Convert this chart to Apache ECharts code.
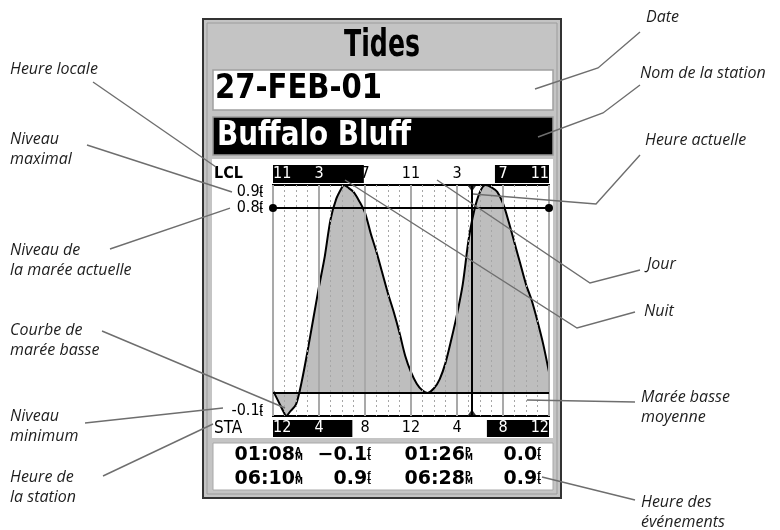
<!DOCTYPE html>
<html>
<head>
<meta charset="utf-8">
<script src="https://cdn.jsdelivr.net/npm/echarts@6/dist/echarts.min.js"></script>
<style>
html, body { margin: 0; padding: 0; background: #fff; }
#chart { width: 780px; height: 530px; }
</style>
</head>
<body>
<div id="chart"></div>
<script>
// Tide level (ft) at half-hour steps, station time (0 = midnight, 24 = next midnight)
const sampleHours  = [0, 0.5, 1, 1.5, 2, 2.5, 3, 3.5, 4, 4.5, 5, 5.5, 6, 6.5, 7, 7.5, 8, 8.5, 9, 9.5,
                      10, 10.5, 11, 11.5, 12, 12.5, 13, 14, 14.5, 15, 15.5, 16, 16.5, 17, 17.5, 18,
                      19, 19.5, 20, 20.5, 21, 21.5, 22, 22.5, 23, 23.5, 24];
const sampleLevels = [0.01, -0.04, -0.09, -0.08, -0.05, 0.05, 0.18, 0.32, 0.46, 0.59, 0.75, 0.84, 0.89, 0.89, 0.87, 0.83, 0.78, 0.69, 0.61, 0.52,
                      0.43, 0.35, 0.26, 0.16, 0.09, 0.04, 0.01, 0.02, 0.06, 0.13, 0.23, 0.34, 0.47, 0.66, 0.79, 0.87,
                      0.89, 0.87, 0.82, 0.74, 0.65, 0.56, 0.47, 0.40, 0.31, 0.21, 0.09];

// Tide events of the day: minutes after midnight (station time) and level in ft
const eventMinutes = [68, 370, 806, 1108];
const eventLevels  = [-0.1, 0.9, 0.0, 0.9];

// Level axis labels, present tide level, mean low water, present time
const levelTicks    = [0.9, 0.8, -0.1];
const currentLevel  = 0.8;
const lowWaterLevel = 0.0;
const currentHour   = 17.3;

// Local time is one hour behind station time
const lclOffset = -1;

// Night spans (station hours) shown in black on the two time bars
const lclNight = [[0, 7.9], [19.3, 24]];
const staNight = [[0, 6.9], [18.6, 24]];

const NARROW = '"DejaVu Sans Condensed", "Liberation Sans Narrow", "DejaVu Sans", sans-serif';
const BOLD_WIDE = '"DejaVu Sans", "Liberation Sans", sans-serif';
const NOTE_FONT = 'italic 16px "Open Sans", "Noto Sans", sans-serif';

const curve = sampleHours.map((h, i) => [h, sampleLevels[i]])
  .concat(eventMinutes.map((m, i) => [m / 60, eventLevels[i]]))
  .sort((a, b) => a[0] - b[0]);

function hour12(h) {
  const r = ((Math.round(h) % 12) + 12) % 12;
  return String(r === 0 ? 12 : r);
}
function inSpans(spans, v) {
  return spans.some(s => v >= s[0] && v <= s[1]);
}
function pad2(n) { return (n < 10 ? '0' : '') + n; }
function clockText(min) {
  const hh = Math.floor(min / 60), mm = min % 60;
  return { t: pad2(hh % 12 || 12) + ':' + pad2(mm), a: hh < 12 ? 'A' : 'P' };
}
function levelText(v) { return v.toFixed(1).replace('-', '\u2212'); }

const measureCtx = document.createElement('canvas').getContext('2d');
function fitScale(text, font, width) {
  measureCtx.font = font;
  return width / measureCtx.measureText(text).width;
}

// ---------- device body ----------
const body = [
  { type: 'rect', z: -5, shape: { x: 203, y: 19, width: 358, height: 479 },
    style: { fill: '#c4c4c4', stroke: '#333', lineWidth: 2 } },
  { type: 'rect', z: -5, shape: { x: 207, y: 23, width: 350, height: 471 },
    style: { fill: 'none', stroke: '#9c9c9c', lineWidth: 1 } },
  { type: 'rect', z: -4, shape: { x: 213, y: 70, width: 340, height: 40 },
    style: { fill: '#fff', stroke: '#a0a0a0', lineWidth: 1.5 } },
  { type: 'rect', z: -4, shape: { x: 213, y: 117, width: 340, height: 38 },
    style: { fill: '#000', stroke: '#9a9a9a', lineWidth: 1.5 } },
  { type: 'rect', z: -4, shape: { x: 212, y: 159, width: 341, height: 279 },
    style: { fill: '#fff' } },
  { type: 'rect', z: -4, shape: { x: 213, y: 443, width: 340, height: 47 },
    style: { fill: '#fff', stroke: '#a8a8a8', lineWidth: 1 } }
];

const titleFont = 'bold 37px ' + NARROW;
const dateFont = 'bold 34px ' + NARROW;
const headings = [
  { text: 'Tides', x: 382, y: 46, align: 'center', font: titleFont, w: 76, fill: '#000' },
  { text: '27-FEB-01', x: 215, y: 89, align: 'left', font: dateFont, w: 167, fill: '#000' },
  { text: 'Buffalo Bluff', x: 217, y: 136, align: 'left', font: dateFont, w: 194, fill: '#fff' }
].map(d => ({
  type: 'text', z: 5, x: d.x, y: d.y, scaleX: fitScale(d.text, d.font, d.w),
  style: { text: d.text, font: d.font, fill: d.fill, align: d.align, verticalAlign: 'middle' }
}));

const barTitles = [
  { type: 'text', z: 5, x: 214, y: 174, style: { text: 'LCL', font: 'bold 16px ' + NARROW, fill: '#000', verticalAlign: 'middle' } },
  { type: 'text', z: 5, x: 214, y: 429, style: { text: 'STA', font: '17px ' + NARROW, fill: '#000', verticalAlign: 'middle' } }
];

// ---------- stacked-unit text styles ----------
function unitRich(mainFont, unitFont, lh) {
  return {
    n: { font: mainFont, fill: '#000', lineHeight: lh, align: 'left' },
    a: { font: unitFont, fill: '#000', width: 0, verticalAlign: 'top', lineHeight: 8, align: 'left' },
    m: { font: unitFont, fill: '#000', verticalAlign: 'bottom', lineHeight: 8, align: 'left' }
  };
}
const tableRich = unitRich('bold 19px ' + BOLD_WIDE, 'bold 8px ' + BOLD_WIDE, 14);
const levelRich = unitRich('16px ' + NARROW, 'bold 8px ' + NARROW, 13);

// ---------- event table ----------
const tableCells = [];
const rowOrder = [[0, 2], [1, 3]];
const rowY = [455, 479];
const colRight = [[303, 371], [473, 541]];
rowOrder.forEach((pair, r) => {
  pair.forEach((ev, c) => {
    const ck = clockText(eventMinutes[ev]);
    tableCells.push({
      type: 'text', z: 5, x: colRight[c][0], y: rowY[r],
      style: { text: '{n|' + ck.t + '}{a|' + ck.a + '}{m|M}', rich: tableRich, align: 'right', verticalAlign: 'middle' }
    });
    tableCells.push({
      type: 'text', z: 5, x: colRight[c][1], y: rowY[r],
      style: { text: '{n|' + levelText(eventLevels[ev]) + '}{a|f}{m|t}', rich: tableRich, align: 'right', verticalAlign: 'middle' }
    });
  });
});

// ---------- chart ----------
const barLabel = (spans, offset) => ({
  inside: true, margin: 9, verticalAlign: 'middle',
  fontFamily: NARROW, fontSize: 16,
  showMinLabel: true, showMaxLabel: true,
  alignMinLabel: 'left', alignMaxLabel: 'right',
  formatter: v => hour12(v + offset),
  color: v => inSpans(spans, Number(v)) ? '#fff' : '#000'
});
const nightRect = (params, api) => {
  const p0 = api.coord([api.value(0), 1]);
  const p1 = api.coord([api.value(1), 0]);
  return { type: 'rect', shape: { x: p0[0], y: p0[1], width: p1[0] - p0[0], height: p1[1] - p0[1] },
           style: { fill: '#000' } };
};
const hiddenAxis = { show: false, min: 0, max: 1 };

const option = {
  animation: false,
  grid: [
    { left: 273, top: 185, width: 276, height: 231, show: true, backgroundColor: '#fff',
      borderColor: '#000', borderWidth: 2 },
    { left: 273, top: 165, width: 276, height: 18 },
    { left: 273, top: 420, width: 276, height: 17 }
  ],
  xAxis: [
    { gridIndex: 0, type: 'value', min: 0, max: 24, interval: 4, z: 3,
      axisLine: { show: false }, axisTick: { show: false }, axisLabel: { show: false },
      splitLine: { show: true, lineStyle: { color: '#a9a9a9', width: 2 } },
      minorTick: { show: false, splitNumber: 4 },
      minorSplitLine: { show: true, lineStyle: { color: '#a6a6a6', width: 1, type: [2, 3] } } },
    { gridIndex: 1, type: 'value', min: 0, max: 24, interval: 4, z: 5,
      axisLine: { show: false }, axisTick: { show: false }, splitLine: { show: false },
      axisLabel: barLabel(lclNight, lclOffset) },
    { gridIndex: 2, type: 'value', min: 0, max: 24, interval: 4, z: 5,
      axisLine: { show: false }, axisTick: { show: false }, splitLine: { show: false },
      axisLabel: barLabel(staNight, 0) }
  ],
  yAxis: [
    { gridIndex: 0, type: 'value', min: -0.1, max: 0.9, interval: 0.1,
      axisLine: { show: false }, axisTick: { show: false }, splitLine: { show: false },
      axisLabel: { show: false } },
    Object.assign({ gridIndex: 1 }, hiddenAxis),
    Object.assign({ gridIndex: 2 }, hiddenAxis)
  ],
  series: [
    { type: 'custom', xAxisIndex: 1, yAxisIndex: 1, data: lclNight, renderItem: nightRect, silent: true, z: 2 },
    { type: 'custom', xAxisIndex: 2, yAxisIndex: 2, data: staNight, renderItem: nightRect, silent: true, z: 2 },
    { name: 'Marée', type: 'line', xAxisIndex: 0, yAxisIndex: 0, data: curve,
      smooth: 0.3, showSymbol: false, silent: true, z: 2,
      lineStyle: { color: '#000', width: 2 },
      areaStyle: { color: '#bebebe', opacity: 1, origin: lowWaterLevel } },
    { name: 'Repères', type: 'line', xAxisIndex: 0, yAxisIndex: 0, data: [], silent: true, z: 4,
      markLine: {
        silent: true, animation: false, label: { show: false },
        lineStyle: { color: '#000', width: 2, type: 'solid' },
        data: [
          [{ coord: [0, currentLevel], symbol: 'circle', symbolSize: 8 },
           { coord: [24, currentLevel], symbol: 'circle', symbolSize: 8 }],
          [{ coord: [0, lowWaterLevel], symbol: 'none' },
           { coord: [24, lowWaterLevel], symbol: 'none' }],
          [{ coord: [currentHour, -0.1], symbol: 'none' },
           { coord: [currentHour, 0.9], symbol: 'none' }]
        ]
      } },
    { name: 'Heure actuelle', type: 'scatter', xAxisIndex: 0, yAxisIndex: 0, silent: true, z: 5,
      symbol: 'triangle', symbolSize: [10, 7], itemStyle: { color: '#000' },
      data: [
        { value: [currentHour, 0.9], symbolRotate: 180, symbolOffset: [0, 3] },
        { value: [currentHour, -0.1], symbolRotate: 0, symbolOffset: [0, -3] }
      ] }
  ]
};

const chart = echarts.init(document.getElementById('chart'), null, { renderer: 'canvas' });
chart.setOption(option);

// Level labels with stacked "ft" unit, placed on the level axis scale
// (vertical nudge in px, positive = down)
const labelNudge = { '0.9': 7, '0.8': 0, '-0.1': -5 };
const levelY = t => chart.convertToPixel({ yAxisIndex: 0 }, t) + (labelNudge[t.toFixed(1)] || 0);
const levelLabels = levelTicks.map(t => ({
  type: 'text', z: 5, x: 263, y: levelY(t),
  style: { text: '{n|' + t.toFixed(1) + '}{a|f}{m|t}', rich: levelRich, align: 'right', verticalAlign: 'middle' }
}));

// ---------- callouts ----------
const callouts = [
  { text: 'Heure locale', x: 10, y: 59, pts: [[93, 82], [216, 167]] },
  { text: 'Niveau\nmaximal', x: 10, y: 129, pts: [[87, 145], [232, levelY(0.9)]] },
  { text: 'Niveau de\nla marée actuelle', x: 10, y: 240, pts: [[110, 249], [230, levelY(currentLevel)]] },
  { text: 'Courbe de\nmarée basse', x: 10, y: 320, pts: [[102, 331], [285, 408]] },
  { text: 'Niveau\nminimum', x: 10, y: 406, pts: [[85, 423], [223, levelY(-0.1) - 3]] },
  { text: 'Heure de\nla station', x: 10, y: 467, pts: [[103, 476], [213, 424]] },
  { text: 'Date', x: 646, y: 7, pts: [[640, 32], [598, 68], [535, 89]] },
  { text: 'Nom de la station', x: 640, y: 63, pts: [[640, 85], [603, 113], [538, 137]] },
  { text: 'Heure actuelle', x: 645, y: 130, pts: [[640, 155], [596, 204], [473, 194]] },
  { text: 'Jour', x: 647, y: 254, pts: [[640, 270], [590, 283], [437, 180]] },
  { text: 'Nuit', x: 644, y: 301, pts: [[635, 312], [577, 328], [345, 180]] },
  { text: 'Marée basse\nmoyenne', x: 641, y: 387, pts: [[635, 402], [527, 400]] },
  { text: 'Heure des\névénements', x: 641, y: 492, pts: [[635, 500], [542, 477]] }
];
const calloutEls = [];
callouts.forEach(c => {
  calloutEls.push({ type: 'polyline', z: 50, shape: { points: c.pts },
    style: { stroke: '#6e6e6e', lineWidth: 1.4, fill: null } });
  calloutEls.push({ type: 'text', z: 50, x: c.x, y: c.y,
    style: { text: c.text, font: NOTE_FONT, fill: '#1e1e1e', lineHeight: 20, verticalAlign: 'top' } });
});

chart.setOption({
  graphic: { elements: body.concat(headings, barTitles, levelLabels, tableCells, calloutEls) }
});
</script>
</body>
</html>
